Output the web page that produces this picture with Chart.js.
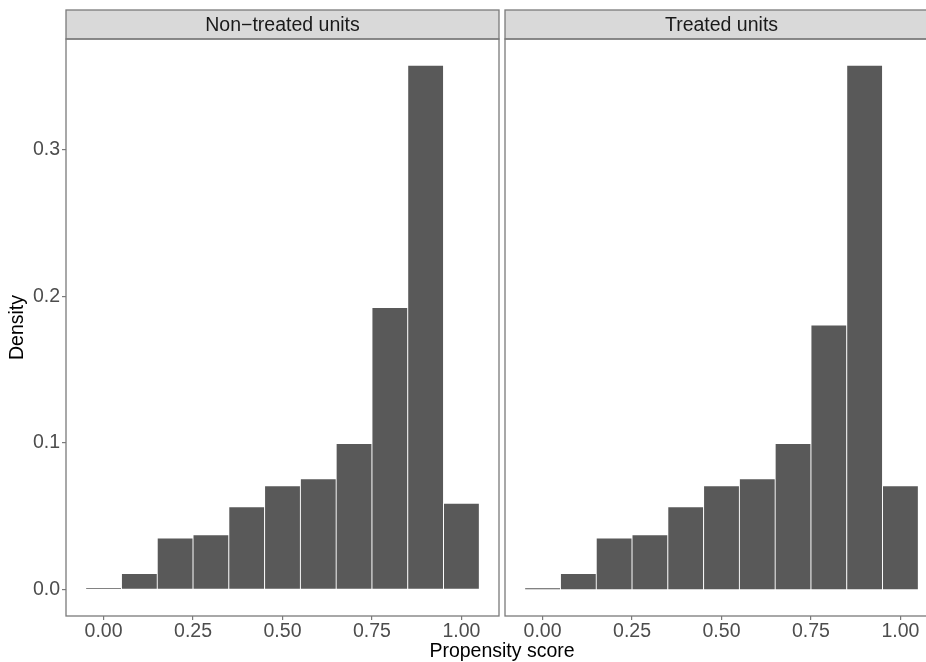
<!DOCTYPE html>
<html>
<head>
<meta charset="utf-8">
<script src="https://cdn.jsdelivr.net/npm/chart.js@4.4.1/dist/chart.umd.min.js"></script>
<style>
  html, body { margin: 0; padding: 0; background: #fff; overflow: hidden; }
  #wrap { position: relative; width: 926px; height: 662px; overflow: hidden; }
  canvas { position: absolute; top: 0; }
  #xTitle {
    position: absolute; left: 0; width: 1004px; top: 639px; text-align: center;
    font-family: "Liberation Sans", Arial, sans-serif; font-size: 19.5px; color: #000;
  }
</style>
</head>
<body>
<div id="wrap">
  <canvas id="leftPanel" width="502" height="662" style="left:0px"></canvas>
  <canvas id="rightPanel" width="440" height="662" style="left:502px"></canvas>
  <div id="xTitle">Propensity score</div>
</div>
<script>
// Datos del histograma (centros de los intervalos, ancho 0.1)
const scoreBins = [0.0, 0.1, 0.2, 0.3, 0.4, 0.5, 0.6, 0.7, 0.8, 0.9, 1.0];
const nonTreatedDensity = [0.0014, 0.0111, 0.0352, 0.0375, 0.0566, 0.0709, 0.0757, 0.0996, 0.1924, 0.3575, 0.0589];
const treatedDensity = [0.0014, 0.0111, 0.0352, 0.0375, 0.0566, 0.0709, 0.0757, 0.0996, 0.1805, 0.3575, 0.0709];
const xTicks = [0.00, 0.25, 0.50, 0.75, 1.00];
const yTicks = [0.0, 0.1, 0.2, 0.3];
const panelTitles = ['Non\u2212treated units', 'Treated units'];

const FONT = '"Liberation Sans", Arial, sans-serif';
const FONT_SIZE = 19.5;
const BORDER = '#7a7a7a';

// Rango con expansión del 5% como en ggplot
const binWidth = 0.1;
const xLo = scoreBins[0] - binWidth / 2;
const xHi = scoreBins[scoreBins.length - 1] + binWidth / 2;
const xPad = (xHi - xLo) * 0.05;
const yMax = Math.max(...nonTreatedDensity, ...treatedDensity);

// Plugin para el borde del panel y la franja del título
const facetPlugin = {
    id: 'facet',
    afterDraw(chart, args, opts) {
        const { ctx, chartArea } = chart;
        const a = chartArea;
        ctx.save();
        // franja
        ctx.fillStyle = '#d9d9d9';
        ctx.fillRect(a.left, 10, a.right - a.left, a.top - 10);
        ctx.strokeStyle = BORDER;
        ctx.lineWidth = 1.3;
        ctx.strokeRect(a.left, 10, a.right - a.left, a.top - 10);
        ctx.fillStyle = '#1a1a1a';
        ctx.font = FONT_SIZE + 'px ' + FONT;
        ctx.textAlign = 'center';
        ctx.textBaseline = 'middle';
        ctx.fillText(opts.title, (a.left + a.right) / 2, (10 + a.top) / 2 + 1);
        // borde del panel
        ctx.strokeRect(a.left, a.top, a.right - a.left, a.bottom - a.top);
        ctx.restore();
    }
};

function makePanel(canvasId, values, title, showY, padding) {
    const ctx = document.getElementById(canvasId);
    return new Chart(ctx, {
        type: 'bar',
        data: {
            datasets: [{
                data: scoreBins.map((x, i) => ({ x: x, y: values[i] })),
                backgroundColor: '#595959',
                borderColor: '#ffffff',
                borderWidth: 0.8,
                borderSkipped: false,
                barPercentage: 1,
                categoryPercentage: 1
            }]
        },
        options: {
            responsive: false,
            animation: false,
            devicePixelRatio: 1,
            layout: { padding: padding },
            plugins: {
                legend: { display: false },
                tooltip: { enabled: false },
                facet: { title: title }
            },
            scales: {
                x: {
                    type: 'linear',
                    offset: false,
                    min: xLo - xPad,
                    max: xHi + xPad,
                    afterBuildTicks: s => { s.ticks = xTicks.map(v => ({ value: v })); },
                    afterFit: s => { s.height = 46; },
                    border: { display: false },
                    grid: { offset: false, drawOnChartArea: false, drawTicks: true, tickLength: 4, color: BORDER, lineWidth: 1.2 },
                    ticks: {
                        autoSkip: false, maxRotation: 0, padding: 0,
                        color: '#4d4d4d', font: { family: FONT, size: FONT_SIZE },
                        callback: v => Number(v).toFixed(2)
                    }
                },
                y: {
                    display: showY,
                    min: -yMax * 0.05,
                    max: yMax * 1.05,
                    afterBuildTicks: s => { s.ticks = yTicks.map(v => ({ value: v })); },
                    afterFit: s => { s.width = showY ? 66 : 0; },
                    border: { display: false },
                    grid: { drawOnChartArea: false, drawTicks: true, tickLength: 4, color: BORDER, lineWidth: 1.2 },
                    title: {
                        display: true, text: 'Density', color: '#000',
                        font: { family: FONT, size: FONT_SIZE }, padding: { top: 6, bottom: 0 }
                    },
                    ticks: {
                        padding: 2, color: '#4d4d4d', font: { family: FONT, size: FONT_SIZE },
                        callback: v => Number(v).toFixed(1)
                    }
                }
            }
        },
        plugins: [facetPlugin]
    });
}

makePanel('leftPanel', nonTreatedDensity, panelTitles[0], true, { top: 39, right: 3, left: 0, bottom: 0 });
makePanel('rightPanel', treatedDensity, panelTitles[1], false, { top: 39, right: 4, left: 3, bottom: 0 });
</script>
</body>
</html>
